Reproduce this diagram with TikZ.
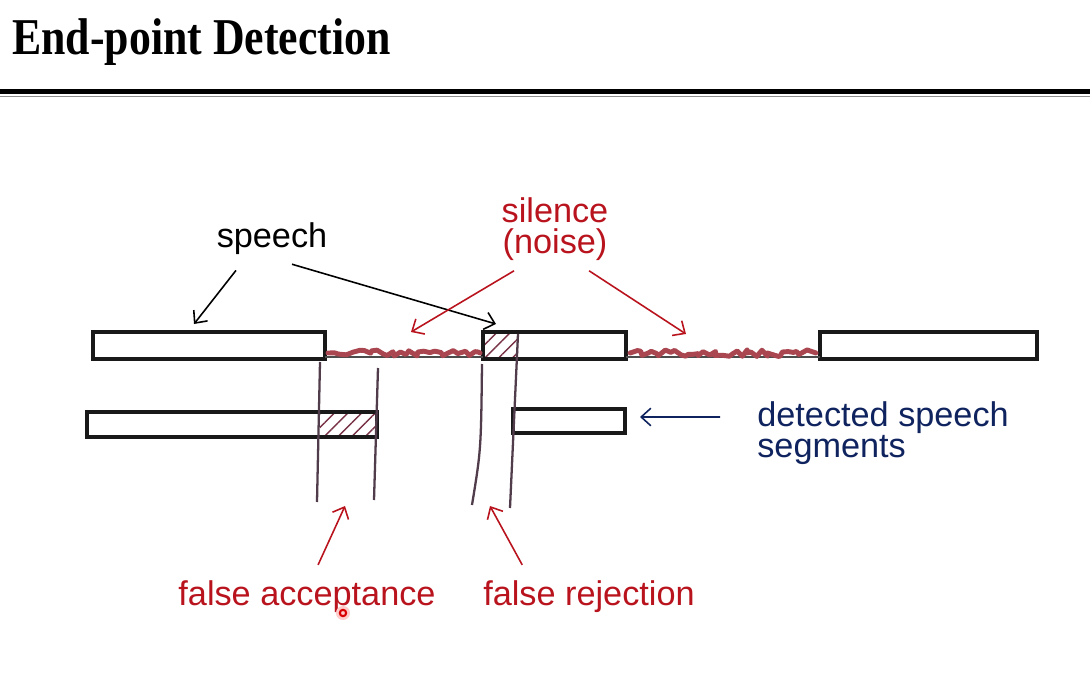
\documentclass[tikz,border=0pt]{standalone}
\usepackage{fontspec}
\setmainfont{Liberation Sans}
\newfontfamily\headfont{Liberation Serif}
\usetikzlibrary{arrows.meta,patterns.meta,decorations.pathmorphing}

\definecolor{noisered}{RGB}{170,70,80}
\definecolor{hintred}{RGB}{185,20,30}
\definecolor{hintnavy}{RGB}{15,35,95}
\definecolor{cutgray}{RGB}{80,60,75}
\definecolor{hatchred}{RGB}{120,50,70}

\tikzset{
	segbox/.style={line width=2pt, draw=black!90},
	hatchfill/.style={pattern={Lines[angle=45,distance=5.5pt,line width=0.8pt]}, pattern color=hatchred},
	noisy/.style={line width=2.8pt, draw=noisered, line cap=round, line join=round, decorate, decoration={random steps, segment length=2.5pt, amplitude=2pt}},
	cutline/.style={line width=1.3pt, draw=cutgray},
	pointer/.style={-{Straight Barb[length=5.5pt,width=10pt]}, line width=0.9pt},
	hint/.style={font=\fontsize{19.5}{17.6}\selectfont, inner sep=0pt},
}

\begin{document}
\begin{tikzpicture}[x=0.02cm, y=-0.02cm]
		%%%%% START %%%%%
		\useasboundingbox (0,0) rectangle (1090,679);
		\fill[white] (0,0) rectangle (1090,679);
		
		\node[anchor=base west, inner sep=0pt] (title) at (12,55) {\scalebox{0.89}[1.05]{\headfont\bfseries\fontsize{28}{32}\selectfont End-point Detection}};
		\fill[black] (0,89) rectangle (1090,94);
		\draw[line width=0.8pt, color=black!45] (0,96.5) -- (1090,96.5);
		
		% speech as it is
		\draw[segbox] (93,332) rectangle (325,359);
		\path[hatchfill] (483,332) rectangle (518,359);
		\draw[segbox] (483,332) rectangle (626,359);
		\draw[segbox] (820,332) rectangle (1037,359);
		
		\draw[line width=0.9pt, color=black!70] (325,357) -- (483,357);
		\draw[line width=0.9pt, color=black!70] (626,357) -- (820,357);
		\pgfmathsetseed{11}
		\draw[noisy] (328,353) -- (480,353);
		\draw[noisy] (630,353) -- (816,353);
		
		% detected
		\path[hatchfill] (320,412) rectangle (377,437);
		\draw[segbox] (87,412) rectangle (377,437);
		\draw[segbox] (513,409) rectangle (625,433);
		
		\draw[cutline] (320,362) -- (317,502);
		\draw[cutline] (378,368) -- (374,500);
		\draw[cutline] (482,364) .. controls (481,450) .. (472,505);
		\draw[cutline] (518,334) -- (510,508);
		
		% labels
		\node[hint, anchor=base] (speech) at (272,248) {speech};
		\node[hint, text=hintred, align=center] (silence) at (555,229) {silence\\(noise)};
		\node[hint, text=hintnavy, align=left, anchor=west] (detected) at (757,433.5) {detected speech\\segments};
		\node[hint, text=hintred, anchor=base] (facc) at (307,605) {false acceptance};
		\node[hint, text=hintred, anchor=base] (frej) at (589,605) {false rejection};
		
		\coordinate (speechtipa) at (194,324);
		\coordinate (speechtipb) at (496,324);
		\coordinate (noisetipa) at (411,332);
		\coordinate (noisetipb) at (686,334);
		\coordinate (detecttip) at (640,417);
		\coordinate (facctip) at (345,506);
		\coordinate (frejtip) at (490,506);
		
		\draw[pointer] ([shift={(-20.5pt,-8.5pt)}]speech.south) -- (speechtipa);
		\draw[pointer] ([shift={(11.4pt,-5pt)}]speech.south) -- (speechtipb);
		\draw[pointer, color=hintred] ([shift={(-23.3pt,-5.7pt)}]silence.south) -- (noisetipa);
		\draw[pointer, color=hintred] ([shift={(19.4pt,-5.7pt)}]silence.south) -- (noisetipb);
		\draw[pointer, color=hintnavy] ([shift={(-21pt,9.4pt)}]detected.west) -- (detecttip);
		\draw[pointer, color=hintred] ([shift={(6.3pt,8.5pt)}]facc.north) -- (facctip);
		\draw[pointer, color=hintred] ([shift={(-38pt,8.5pt)}]frej.north) -- (frejtip);
		
		\fill[red!20] (343,613) circle[radius=4pt];
		\draw[line width=1.2pt, color=red!85!black] (343,613) circle[radius=1.8pt];
		%%%%% END %%%%%
\end{tikzpicture}
\end{document}
